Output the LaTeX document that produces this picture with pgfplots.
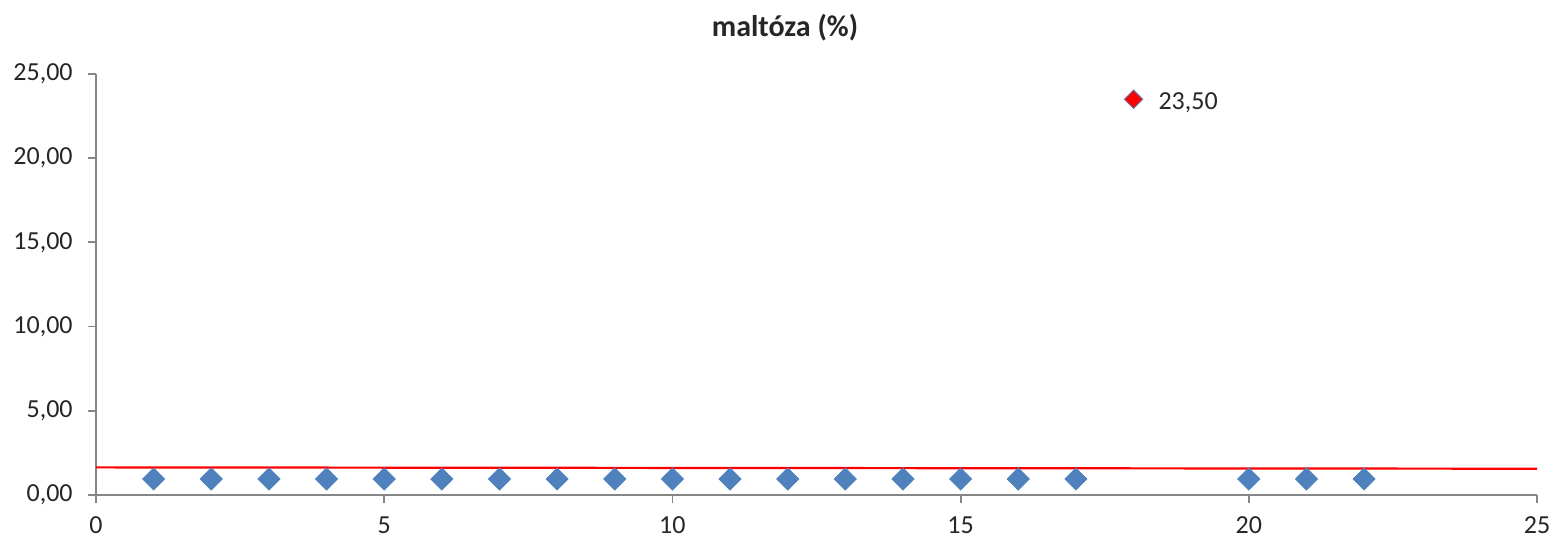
\documentclass[border=0pt]{standalone}
\usepackage{pgfplots}
\pgfplotsset{compat=1.18}
\usepackage{fontspec}
\setmainfont{Carlito}
\definecolor{exblue}{HTML}{4F81BD}
\definecolor{axgray}{HTML}{868686}
\definecolor{txt}{HTML}{262626}
\begin{document}
\begin{tikzpicture}
\begin{axis}[
  name=ax,
  scale only axis,
  width=720.5pt, height=210.5pt,
  xmin=0, xmax=25, ymin=0, ymax=25,
  axis x line=bottom, axis y line=left,
  axis line style={-, axgray, line width=0.9pt},
  xtick={0,5,...,25}, ytick={0,5,...,25},
  tick align=outside, major tick length=4pt,
  tick style={axgray, line width=0.9pt},
  minor tick num=0,
  /pgf/number format/assume math mode=true,
  yticklabel={\pgfmathprintnumber[fixed,fixed zerofill,precision=2,use comma]{\tick}},
  xticklabel={\pgfmathprintnumber[fixed,precision=0]{\tick}},
  ticklabel style={font=\fontsize{13}{15}\selectfont, text=txt},
  yticklabel style={anchor=east, inner sep=0pt, xshift=-7.5pt},
  xticklabel style={anchor=center, inner sep=0pt, yshift=-11pt},
  clip=false,
]
\addplot[red, line width=1.1pt, no markers] coordinates {(0,1.64) (25,1.56)};
\addplot[only marks, mark=square*, mark size=3.9pt, mark options={rotate=45, fill=exblue, draw=exblue}]
  coordinates {
  (1,0.95) (2,0.95) (3,0.95) (4,0.95) (5,0.95) (6,0.95) (7,0.95) (8,0.95) (9,0.95)
  (10,0.95) (11,0.95) (12,0.95) (13,0.95) (14,0.95) (15,0.95) (16,0.95) (17,0.95)
  (20,0.95) (21,0.95) (22,0.95)};
\addplot[only marks, mark=square*, mark size=3.2pt, mark options={rotate=45, fill=red, draw=exblue!80!red, line width=0.5pt},
  nodes near coords={23{,}50},
  nodes near coords style={anchor=west, inner sep=0pt, xshift=12.25pt, yshift=-1.5pt, font=\fontsize{13}{15}\selectfont, text=txt}]
  coordinates {(18,23.5)};
\node[font=\bfseries\fontsize{15}{17}\selectfont, text=txt] at ([xshift=-15.75pt, yshift=23pt]axis description cs:0.5,1) {maltóza (\%)};
\end{axis}
\path (ax.south west) ++(-48pt,-25pt) rectangle ([xshift=9pt, yshift=37pt]ax.north east);
\end{tikzpicture}
\end{document}
